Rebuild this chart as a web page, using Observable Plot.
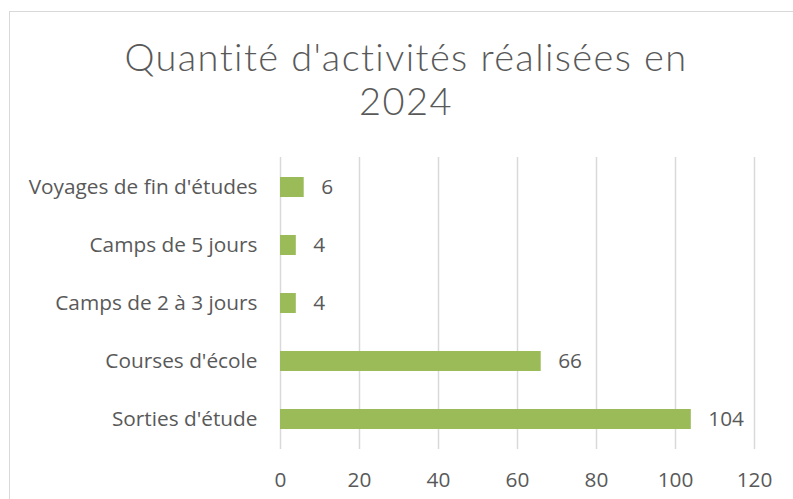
<!DOCTYPE html>
<html>
<head>
<meta charset="utf-8">
<script src="https://cdn.jsdelivr.net/npm/d3@7"></script>
<script src="https://cdn.jsdelivr.net/npm/@observablehq/plot@0.6"></script>
<style>
  html, body { margin: 0; padding: 0; background: #fff; }
  #wrap { position: relative; width: 793px; height: 499px; overflow: hidden; }
  #frame { position: absolute; left: 9px; top: 11px; width: 900px; height: 600px;
           border-left: 1px solid #d9d9d9; border-top: 1px solid #d9d9d9; }
  #title { position: absolute; left: 0; top: 34px; width: 812px; text-align: center;
           font-family: Lato, sans-serif; font-weight: 300; font-size: 38px; line-height: 44px;
           letter-spacing: 1.4px; color: #595959; }
  #chart { position: absolute; left: 0; top: 140px; }
</style>
</head>
<body>
<div id="wrap">
  <div id="frame"></div>
  <div id="title">Quantité d'activités réalisées en<br>2024</div>
  <div id="chart"></div>
</div>
<script>
const categories = ["Voyages de fin d'études", "Camps de 5 jours", "Camps de 2 à 3 jours", "Courses d'école", "Sorties d'étude"];
const values = [6, 4, 4, 66, 104];
const xTicks = [0, 20, 40, 60, 80, 100, 120];

const data = categories.map((c, i) => ({category: c, value: values[i]}));
const font = "'Open Sans', sans-serif";
const ink = "#595959";
const fs = 20.8;

const chart = Plot.plot({
  width: 793,
  height: 359,
  marginTop: 17,
  marginBottom: 50,
  marginLeft: 280,
  marginRight: 39,
  style: {fontFamily: font, fontSize: fs + "px", color: ink, background: "transparent"},
  x: {domain: [0, 120], ticks: xTicks, label: null},
  y: {domain: categories, label: null, paddingInner: 0.66, paddingOuter: 0.33},
  marks: [
    Plot.gridX(xTicks, {stroke: "#d9d9d9", strokeOpacity: 1, strokeWidth: 1.5}),
    Plot.axisX({ticks: xTicks, tickSize: 0, tickPadding: 23, fontSize: fs, fill: ink, label: null}),
    Plot.axisY({tickSize: 0, tickPadding: 23, fontSize: fs, fill: ink, label: null}),
    Plot.barX(data, {x: "value", y: "category", fill: "#9BBB59"}),
    Plot.text(data, {x: "value", y: "category", text: d => String(d.value), textAnchor: "start", dx: 17, fontSize: fs, fill: ink})
  ]
});
document.getElementById("chart").appendChild(chart);
</script>
</body>
</html>
